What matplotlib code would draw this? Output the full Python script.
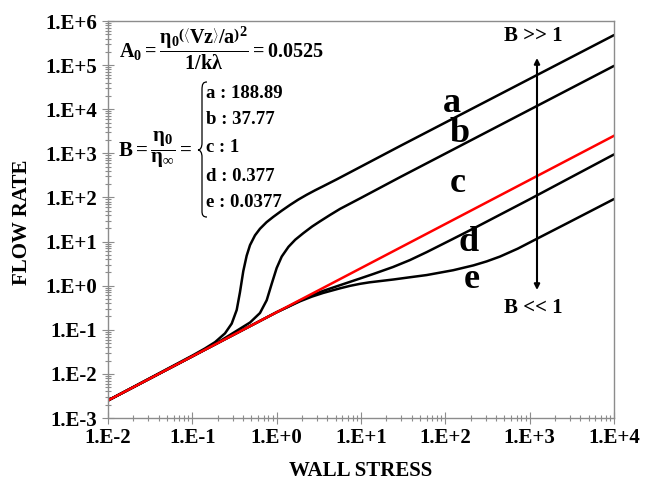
import math
import matplotlib
matplotlib.use("Agg")
import matplotlib.pyplot as plt
from matplotlib.path import Path
from matplotlib.patches import PathPatch
from matplotlib.ticker import LogLocator, FuncFormatter, NullFormatter

# ---------------- data ----------------
tau_c = [0.01, 1e4]
q_c = [0.0025, 2500]

tau_a = [0.01, 0.1, 0.141, 0.186, 0.244, 0.293, 0.336, 0.367, 0.402, 0.441,
         0.483, 0.553, 0.634, 0.759, 0.912, 1.148, 1.44, 1.80, 2.27, 2.85,
         3.57, 5.15, 10.0, 29.0, 1e4]
q_a = [0.0025, 0.026, 0.0376, 0.0525, 0.083, 0.138, 0.282, 0.708, 2.14, 4.79,
       8.3, 13.8, 19.5, 27.5, 36.3, 50.1, 67.6, 89.1, 115, 145,
       180, 257, 501, 1462, 4.79e5]

tau_b = [0.01, 0.1, 0.2, 0.306, 0.483, 0.634, 0.762, 0.873, 1.0, 1.148,
         1.38, 1.66, 2.07, 2.63, 3.27, 4.27, 5.64, 10.0, 29.0, 1e4]
q_b = [0.0025, 0.025, 0.0513, 0.0851, 0.146, 0.240, 0.468, 1.10, 2.51, 4.57,
       7.59, 11.0, 15.5, 21.9, 28.8, 39.8, 55.0, 97.7, 288, 9.6e4]

tau_d = [0.01, 1.0, 1.4, 1.89, 2.6, 3.55, 5.6, 9.7, 14.0, 24.0, 38.0, 60.0,
         120, 235, 1000, 1e4]
q_d = [0.0025, 0.25, 0.34, 0.46, 0.603, 0.76, 1.02, 1.45, 1.84, 2.65, 3.8,
       5.75, 11.2, 21.5, 91, 945]

tau_e = [0.01, 1.0, 1.4, 1.89, 2.6, 3.55, 5.64, 7.4, 9.73, 12.6, 24.2, 38.0,
         60.1, 124, 215, 309, 445, 724, 1211, 2748, 1e4]
q_e = [0.0025, 0.25, 0.339, 0.442, 0.562, 0.683, 0.871, 0.99, 1.10, 1.19,
       1.38, 1.55, 1.74, 2.24, 2.88, 3.55, 4.57, 6.92, 11.5, 25.7, 92]

curve_labels = ["a", "b", "c", "d", "e"]
b_values = ["188.89", "37.77", "1", "0.377", "0.0377"]
x_label = "WALL STRESS"
y_label = "FLOW RATE"

# ---------------- style ----------------
plt.rcParams["font.family"] = ["Liberation Serif", "DejaVu Serif"]
plt.rcParams["font.weight"] = "bold"
plt.rcParams["mathtext.fontset"] = "custom"
plt.rcParams["mathtext.rm"] = "Liberation Serif:bold"
plt.rcParams["mathtext.it"] = "Liberation Serif:bold"
plt.rcParams["mathtext.bf"] = "Liberation Serif:bold"

W, H = 645, 488
fig = plt.figure(figsize=(W / 100, H / 100), dpi=100)
ax = fig.add_axes([108 / W, 1 - 418 / H, (614 - 108) / W, (418 - 21) / H])


def fp(px, py):
    return (px / W, 1 - py / H)


lw = 1.8
for t, q in ((tau_a, q_a), (tau_b, q_b), (tau_d, q_d), (tau_e, q_e)):
    ax.plot(t, q, color="black", lw=lw, solid_joinstyle="round",
            solid_capstyle="round")
ax.plot(tau_c, q_c, color="#ff0000", lw=lw)

ax.set_xscale("log")
ax.set_yscale("log")
ax.set_xlim(1e-2, 1e4)
ax.set_ylim(1e-3, 1e6)

fmt = FuncFormatter(lambda v, p: "1.E%+d" % int(round(math.log10(v))))
for axis in (ax.xaxis, ax.yaxis):
    axis.set_major_locator(LogLocator(base=10, numticks=20))
    axis.set_minor_locator(LogLocator(base=10, subs=range(2, 10), numticks=20))
    axis.set_major_formatter(fmt)
    axis.set_minor_formatter(NullFormatter())

gray = "#8c8c8c"
for s in ax.spines.values():
    s.set_color(gray)
    s.set_linewidth(1.0)
ax.tick_params(which="both", direction="inout", color=gray, width=0.8,
               labelsize=15, labelcolor="black")
ax.tick_params(which="major", length=8)
ax.tick_params(which="minor", length=5)
ax.tick_params(axis="y", pad=4)
ax.tick_params(axis="x", pad=3)

fig.text(*fp(361, 471), x_label, ha="center", va="center", fontsize=15,
         fontweight="bold")
fig.text(*fp(22, 222), y_label, ha="center", va="center", fontsize=15,
         fontweight="bold", rotation=90)

# equations
fig.text(*fp(119, 48),
         r"$\mathbf{A_0 = \dfrac{\eta_0\left(\left\langle Vz\right\rangle/a\right)^2}{1/k\lambda} = 0.0525}$",
         ha="left", va="center", fontsize=14.5)
fig.text(*fp(118, 150), r"$\mathbf{B = \dfrac{\eta_0}{\eta_\infty} =}$",
         ha="left", va="center", fontsize=15)

item_y = [93, 120, 148, 177, 203]
for lab, val, yy in zip(curve_labels, b_values, item_y):
    fig.text(*fp(206, yy), f"{lab} : {val}", ha="left", va="center",
             fontsize=13.5)

# brace
bp = [(207, 82), (203, 82), (202, 84), (202, 90),
      (202, 143),
      (202, 147), (200.5, 150), (198, 150),
      (200.5, 150), (202, 153), (202, 157),
      (202, 211),
      (202, 215), (203, 217), (207, 217)]
codes = [Path.MOVETO, Path.CURVE4, Path.CURVE4, Path.CURVE4,
         Path.LINETO,
         Path.CURVE4, Path.CURVE4, Path.CURVE4,
         Path.CURVE4, Path.CURVE4, Path.CURVE4,
         Path.LINETO,
         Path.CURVE4, Path.CURVE4, Path.CURVE4]
brace = Path([fp(x, y) for x, y in bp], codes)
fig.add_artist(PathPatch(brace, transform=fig.transFigure, fill=False,
                         edgecolor="black", lw=0.9))

# curve labels
label_pos = [(452, 104), (460, 133), (458, 184), (469, 242), (472, 279)]
for lab, (px, py) in zip(curve_labels, label_pos):
    fig.text(*fp(px, py), lab, ha="center", va="center", fontsize=26,
             fontweight="bold")

# arrow and B texts
ax.annotate("", xy=((537 - 108) / 506, (418 - 58) / 397),
            xytext=((537 - 108) / 506, (418 - 290) / 397),
            xycoords="axes fraction", textcoords="axes fraction",
            arrowprops=dict(arrowstyle="<|-|>", color="black", lw=1.5,
                            mutation_scale=8, shrinkA=0, shrinkB=0))
fig.text(*fp(533, 36), "B >> 1", ha="center", va="center", fontsize=15)
fig.text(*fp(533, 308), "B << 1", ha="center", va="center", fontsize=15)

fig.savefig("out.png", dpi=100)
